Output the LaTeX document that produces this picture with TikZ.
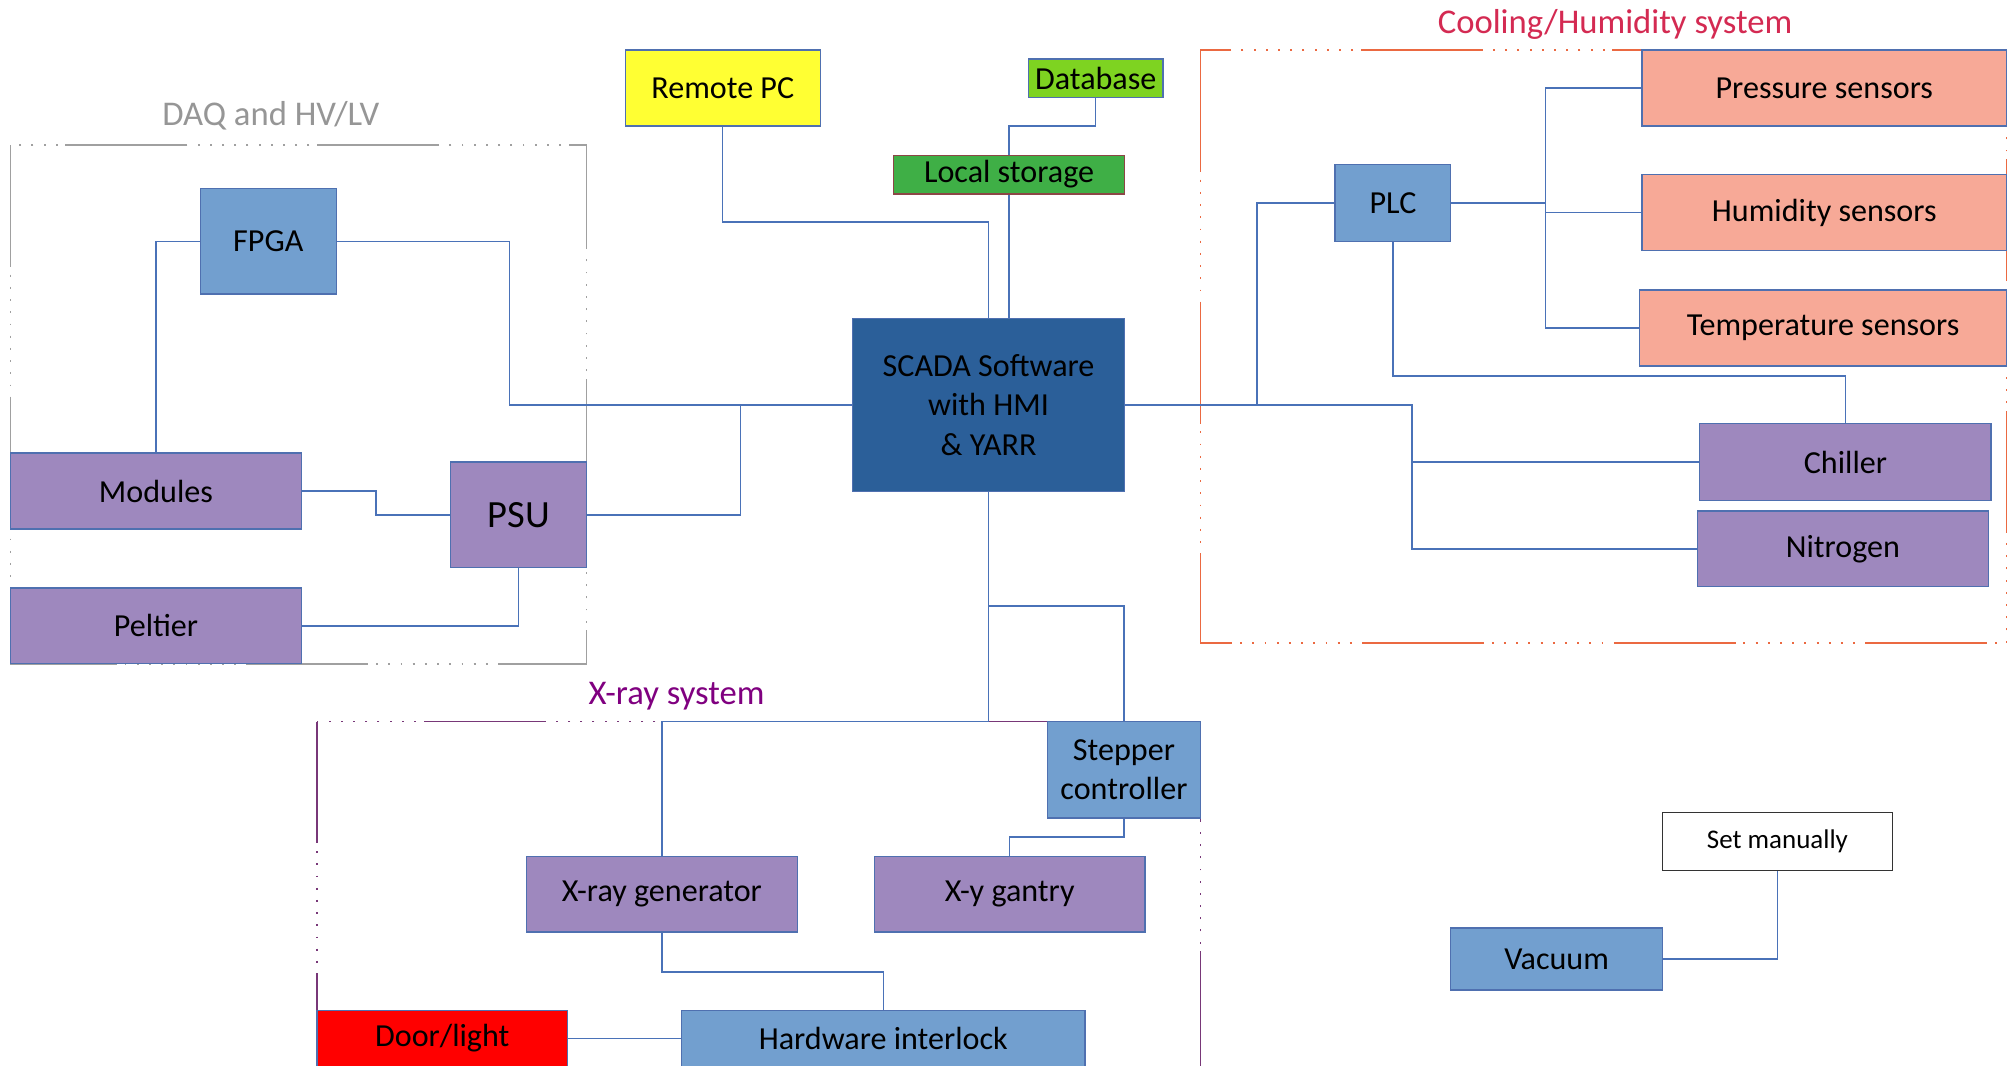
\documentclass[tikz,border=0pt]{standalone}
\usepackage{fontspec}
\setmainfont{Carlito}
\usetikzlibrary{calc}
\definecolor{bluebox}{RGB}{114,159,207}
\definecolor{purplebox}{RGB}{158,136,190}
\definecolor{salmonbox}{RGB}{247,169,151}
\definecolor{scadabox}{RGB}{43,95,153}
\definecolor{yellowbox}{RGB}{255,255,51}
\definecolor{dbgreen}{RGB}{126,211,33}
\definecolor{lsgreen}{RGB}{63,175,70}
\definecolor{lsborder}{RGB}{140,70,70}
\definecolor{boxborder}{RGB}{79,112,176}
\definecolor{connline}{RGB}{74,114,184}
\definecolor{daqgray}{RGB}{160,160,160}
\definecolor{coolorange}{RGB}{235,105,65}
\definecolor{xraypurple}{RGB}{120,55,120}
\definecolor{daqtitle}{RGB}{150,150,150}
\definecolor{cooltitle}{RGB}{212,42,82}
\definecolor{xraytitle}{RGB}{128,0,128}
\tikzset{
  box/.style={draw=boxborder, line width=1.1pt, inner sep=0pt, align=center,
    font=\fontsize{25}{31}\selectfont, text=black},
  bluenode/.style={box, fill=bluebox},
  purplenode/.style={box, fill=purplebox},
  salmonnode/.style={box, fill=salmonbox},
  conn/.style={draw=connline, line width=1.1pt},
  grouppat/.style={line width=1.2pt, dash pattern=on 95pt off 6pt on 1.5pt off 8pt on 1.5pt off 8pt on 1.5pt off 8pt on 1.5pt off 8pt on 1.5pt off 8pt on 1.5pt off 8pt on 1.5pt off 8pt on 1.5pt off 8pt on 1.5pt off 8pt on 1.5pt off 8pt},
  grouptitle/.style={font=\fontsize{27}{32}\selectfont, inner sep=0pt}
}
\begin{document}
\begin{tikzpicture}[x=1pt,y=-1pt]
\useasboundingbox[fill=white] (0,0) rectangle (1568,830);
% group frames
\draw[grouppat, draw=daqgray] (8,113) rectangle (457,517);
\draw[grouppat, draw=coolorange] (935,39) rectangle (1563,501);
\draw[grouppat, draw=xraypurple] (247,562) rectangle (935,845);
\node[grouptitle, text=daqtitle] (tdaq) at (211,90) {DAQ and HV/LV};
\node[grouptitle, text=cooltitle] (tcool) at (1258,19) {Cooling/Humidity system};
\node[grouptitle, text=xraytitle] (txray) at (527,542) {X-ray system};

% nodes
\node[box, fill=yellowbox, minimum width=152, minimum height=59] (remote) at (563,68.5) {Remote PC};
\node[box, fill=dbgreen, minimum width=105, minimum height=30] (database) at (853.5,61) {Database};
\node[box, fill=lsgreen, draw=lsborder, minimum width=180, minimum height=30] (local) at (786,136) {Local storage};
\node[box, fill=scadabox, minimum width=212, minimum height=135] (scada) at (770,315.5) {SCADA Software\\with HMI\\\& YARR};
\node[bluenode, minimum width=106, minimum height=82] (fpga) at (209,188) {FPGA};
\node[purplenode, minimum width=227, minimum height=59] (modules) at (121.5,382.5) {Modules};
\node[purplenode, minimum width=106, minimum height=82, font=\fontsize{30}{36}\selectfont] (psu) at (404,401) {PSU};
\node[purplenode, minimum width=227, minimum height=59] (peltier) at (121.5,487.5) {Peltier};
\node[bluenode, minimum width=90, minimum height=60] (plc) at (1085,158) {PLC};
\node[salmonnode, minimum width=284, minimum height=59] (pressure) at (1421,68.5) {Pressure sensors};
\node[salmonnode, minimum width=284, minimum height=59] (humidity) at (1421,165.5) {Humidity sensors};
\node[salmonnode, minimum width=286, minimum height=59] (temperature) at (1420,255.5) {Temperature sensors};
\node[purplenode, minimum width=227, minimum height=60] (chiller) at (1437.5,360) {Chiller};
\node[purplenode, minimum width=227, minimum height=59] (nitrogen) at (1435.5,427.5) {Nitrogen};
\node[bluenode, minimum width=119, minimum height=75] (stepper) at (875.5,599.5) {Stepper\\controller};
\node[purplenode, minimum width=211, minimum height=59] (xgen) at (515.5,696.5) {X-ray generator};
\node[purplenode, minimum width=211, minimum height=59] (gantry) at (786.5,696.5) {X-y gantry};
\node[box, fill=red, minimum width=195, minimum height=44] (door) at (344.5,809) {Door/light};
\node[bluenode, minimum width=314, minimum height=44] (interlock) at (688,809) {Hardware interlock};
\node[box, fill=white, draw=black!80, line width=1pt, minimum width=179, minimum height=45, font=\fontsize{21}{25}\selectfont] (setman) at (1384.5,655.5) {Set manually};
\node[bluenode, minimum width=165, minimum height=48] (vacuum) at (1212.5,747) {Vacuum};

% junction coordinates
\coordinate (jfpga) at (397,188);
\coordinate (jpsu) at (577,315.5);
\coordinate (jmod) at (293,382.5);
\coordinate (jremote) at (563,173);
\coordinate (jdb) at (853.5,98);
\coordinate (jplcleft) at (979,315.5);
\coordinate (jcool) at (1100,315.5);
\coordinate (jsens) at (1204,158);
\coordinate (jplcdown) at (1085,293);
\coordinate (jxray) at (770,562);
\coordinate (jstep) at (770,472);
\coordinate (jgantry) at (875.5,652);
\coordinate (jlock) at (515.5,757);

% connectors
\draw[conn] (fpga.east) -- (jfpga) |- (scada.west);
\draw[conn] (fpga.west) -| (modules.north);
\draw[conn] (modules.east) -- (jmod) |- (psu.west);
\draw[conn] (psu.east) -| (jpsu);
\draw[conn] (psu.south) |- (peltier.east);
\draw[conn] (remote.south) -- (jremote) -| (scada.north);
\draw[conn] (database.south) -- (jdb) -| (local.north);
\draw[conn] (local.south) -- (local.south |- scada.north);
\draw[conn] (scada.east) -- (jplcleft) |- (plc.west);
\draw[conn] (jplcleft) -- (jcool) |- (chiller.west);
\draw[conn] (jcool) |- (nitrogen.west);
\draw[conn] (plc.east) -- (jsens) |- (pressure.west);
\draw[conn] (jsens) |- (humidity.west);
\draw[conn] (jsens) |- (temperature.west);
\draw[conn] (plc.south) -- (jplcdown) -| (chiller.north);
\draw[conn] (scada.south) -- (jxray) -| (xgen.north);
\draw[conn] (jstep) -| (stepper.north);
\draw[conn] (stepper.south) -- (jgantry) -| (gantry.north);
\draw[conn] (xgen.south) -- (jlock) -| (interlock.north);
\draw[conn] (door.east) -- (interlock.west);
\draw[conn] (vacuum.east) -| (setman.south);
\end{tikzpicture}
\end{document}
